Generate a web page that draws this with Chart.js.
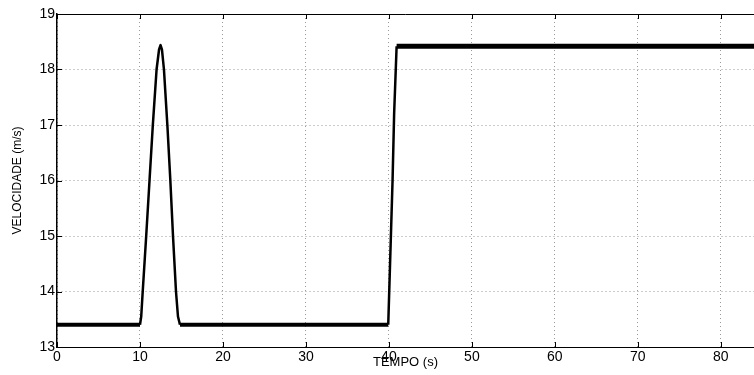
<!DOCTYPE html>
<html>
<head>
<meta charset="utf-8">
<script src="https://cdn.jsdelivr.net/npm/chart.js@4/dist/chart.umd.min.js"></script>
<style>
  html, body { margin: 0; padding: 0; background: #fff; }
  #wrap { width: 754px; height: 375px; position: relative; }
</style>
</head>
<body>
<div id="wrap"><canvas id="chart"></canvas></div>
<script>
// ---------- DATA ----------
const timeS = [0, 10, 10.15, 10.33, 10.75, 11.15, 11.55, 12.0, 12.3, 12.48, 12.65, 12.89, 13.3, 13.66, 13.98, 14.34, 14.58, 14.82, 39.92, 40.44, 40.63, 40.93, 84];
const speedMs = [13.4, 13.4, 13.55, 14, 15, 16, 17, 18, 18.36, 18.44, 18.36, 18, 17, 16, 15, 14, 13.55, 13.4, 13.4, 16, 17.2, 18.42, 18.42];
const xTicks = [0, 10, 20, 30, 40, 50, 60, 70, 80];
const yTicks = [13, 14, 15, 16, 17, 18, 19];

const points = timeS.map((t, i) => ({ x: t, y: speedMs[i] }));

// ---------- HELPERS ----------
const FONT = "'Liberation Sans', Arial, sans-serif";

// top border + inward tick marks, matlab style
const frame = {
  id: "frame",
  afterDraw(chart) {
    const { ctx, chartArea: a, scales } = chart;
    ctx.save();
    ctx.strokeStyle = "#000";
    ctx.lineWidth = 1;
    ctx.beginPath();
    ctx.moveTo(a.left, a.top + 0.5);
    ctx.lineTo(a.right, a.top + 0.5);
    xTicks.forEach(v => {
      const px = Math.round(scales.x.getPixelForValue(v)) + 0.5;
      ctx.moveTo(px, a.bottom);
      ctx.lineTo(px, a.bottom - 5);
      ctx.moveTo(px, a.top);
      ctx.lineTo(px, a.top + 5);
    });
    yTicks.forEach(v => {
      const py = Math.round(scales.y.getPixelForValue(v)) + 0.5;
      ctx.moveTo(a.left, py);
      ctx.lineTo(a.left + 5, py);
    });
    ctx.stroke();
    ctx.restore();
  }
};

// ---------- CHART ----------
new Chart(document.getElementById("chart"), {
  type: "line",
  data: {
    datasets: [{
      data: points,
      borderColor: "#000",
      borderWidth: 2.5,
      pointRadius: 0,
      tension: 0,
      borderJoinStyle: "round",
      segment: {
        borderWidth: c => c.p0.parsed.y === c.p1.parsed.y ? (c.p0.parsed.y > 18 ? 5 : 4) : 2.5
      }
    }]
  },
  options: {
    animation: false,
    responsive: true,
    maintainAspectRatio: false,
    layout: { padding: { top: 14, right: 0, left: 0, bottom: 0 } },
    plugins: { legend: { display: false }, tooltip: { enabled: false } },
    scales: {
      x: {
        type: "linear",
        min: 0,
        max: 84,
        afterBuildTicks: s => { s.ticks = xTicks.map(v => ({ value: v })); },
        afterFit: s => { s.height = 28; },
        grid: { color: "#9a9a9a", lineWidth: 1, drawTicks: false },
        border: { color: "#000", width: 1, dash: [1, 3] },
        ticks: { color: "#000", padding: 2, maxRotation: 0, font: { family: FONT, size: 14 } },
        title: {
          display: true,
          text: "TEMPO (s)",
          color: "#000",
          padding: { top: 0, bottom: 5 },
          font: { family: FONT, size: 13 }
        }
      },
      y: {
        min: 13,
        max: 19,
        afterBuildTicks: s => { s.ticks = yTicks.map(v => ({ value: v })); },
        afterFit: s => { s.width = 57; },
        grid: { color: "#9a9a9a", lineWidth: 1, drawTicks: false },
        border: { color: "#000", width: 1.5, dash: [1, 3] },
        ticks: { color: "#000", padding: 2, font: { family: FONT, size: 14 } },
        title: {
          display: true,
          text: "VELOCIDADE (m/s)",
          color: "#000",
          padding: { top: 10, bottom: 0 },
          font: { family: FONT, size: 12 }
        }
      }
    }
  },
  plugins: [frame]
});
</script>
</body>
</html>
